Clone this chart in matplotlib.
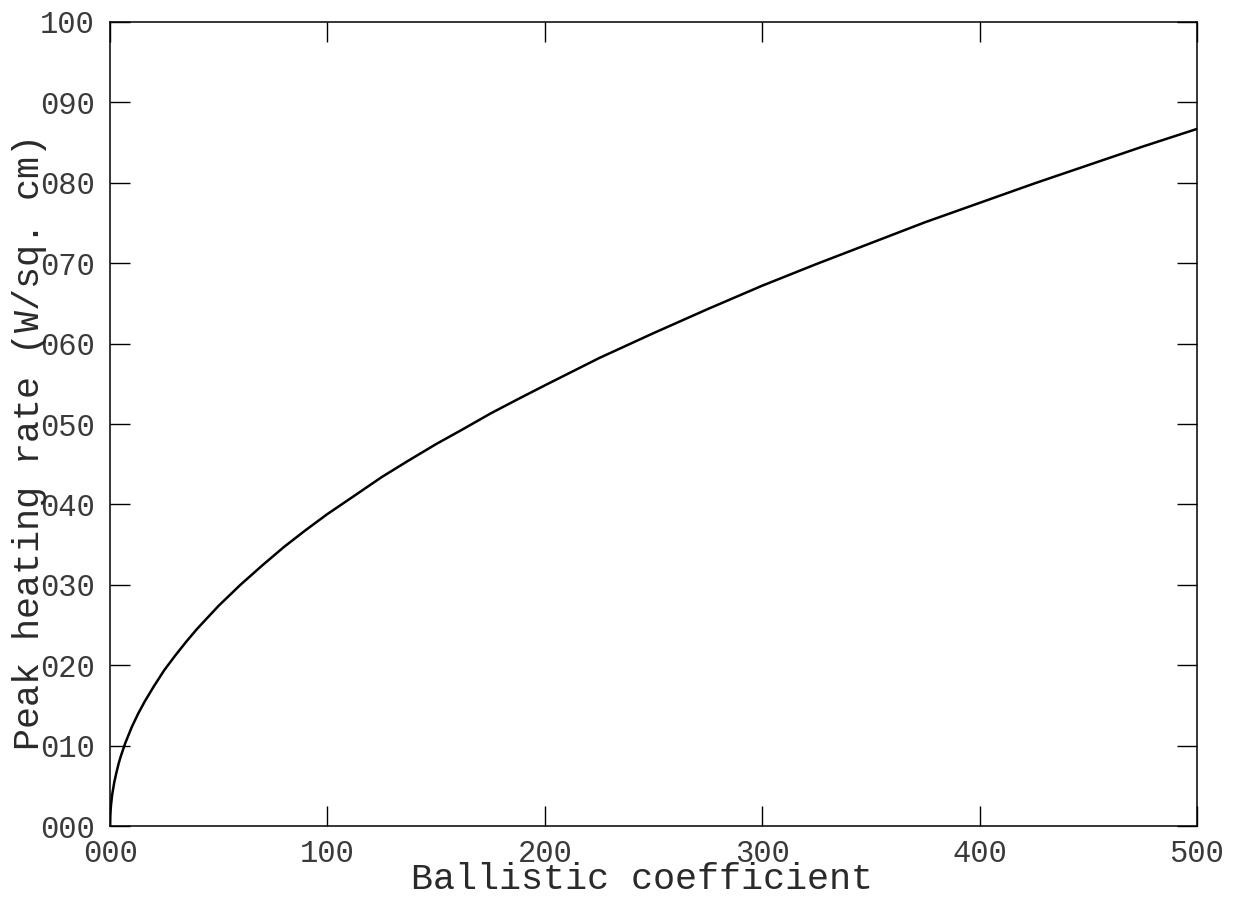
"""Peak heating rate vs ballistic coefficient."""

import matplotlib

matplotlib.use("Agg")
import matplotlib.pyplot as plt
from matplotlib.ticker import FuncFormatter, MultipleLocator

# values
ballistic_coef = [0, 0.1, 0.25, 0.5, 1, 1.5, 2, 3, 4, 5, 7, 10, 13, 16, 20, 25,
                  30, 35, 40, 50, 60, 70, 80, 90, 100, 112, 125, 137, 150, 162,
                  175, 187, 200, 225, 250, 275, 300, 325, 350, 375, 400, 425,
                  450, 475, 500]
peak_heating = [0.0, 1.2, 1.9, 2.7, 3.9, 4.7, 5.5, 6.7, 7.8, 8.7, 10.3, 12.3,
                14.0, 15.5, 17.3, 19.4, 21.2, 22.9, 24.5, 27.4, 30.0, 32.4,
                34.7, 36.8, 38.8, 41.0, 43.4, 45.4, 47.5, 49.3, 51.3, 53.0,
                54.8, 58.2, 61.3, 64.3, 67.2, 69.9, 72.5, 75.1, 77.5, 79.9,
                82.2, 84.5, 86.7]

FONT = "Liberation Mono"

fig = plt.figure(figsize=(12.36, 9.09), dpi=100)
ax = fig.add_axes([0.089, 0.0913, 0.8794, 0.8845])

ax.plot(ballistic_coef, peak_heating, color="black", linewidth=1.8)

ax.set_xlim(0, 500)
ax.set_ylim(0, 100)
ax.xaxis.set_major_locator(MultipleLocator(100))
ax.yaxis.set_major_locator(MultipleLocator(10))
fmt = FuncFormatter(lambda v, _: f"{int(round(v)):03d}")
ax.xaxis.set_major_formatter(fmt)
ax.yaxis.set_major_formatter(fmt)

ax.tick_params(direction="in", length=14.4, width=1.0, top=True, right=True,
               labelsize=22, pad=11, colors="black")
ax.tick_params(axis="x", pad=9)
for lab in ax.get_xticklabels() + ax.get_yticklabels():
    lab.set_family(FONT)
    lab.set_color("#3a3a3a")
for sp in ax.spines.values():
    sp.set_linewidth(1.1)
    sp.set_color("black")

ax.set_xlabel("Ballistic coefficient", family=FONT, fontsize=26.5, color="#2a2a2a")
ax.xaxis.set_label_coords(0.489, -0.078)
ax.xaxis.label.set_verticalalignment("baseline")

ax.set_ylabel("Peak heating rate (W/sq. cm)", family=FONT, fontsize=26.5,
              color="#2a2a2a")
ax.yaxis.label.set_verticalalignment("center")
ax.yaxis.set_label_coords(-0.0745, 0.478)

fig.savefig("out.png", dpi=100)
